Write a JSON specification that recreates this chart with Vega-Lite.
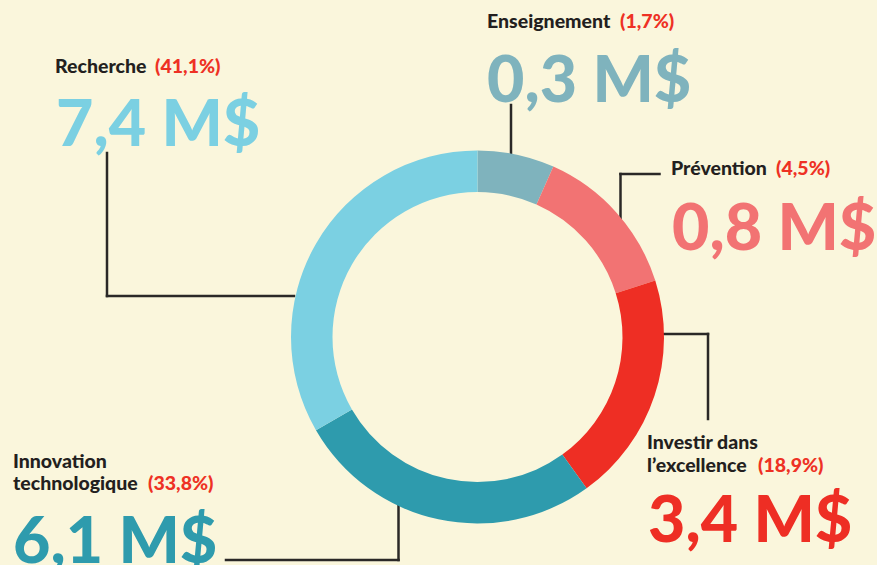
{
  "$schema": "https://vega.github.io/schema/vega-lite/v6.json",
  "width": 877,
  "height": 565,
  "autosize": "none",
  "padding": 0,
  "background": "#FAF6DC",
  "config": {"view": {"stroke": null}, "font": "Lato"},
  "datasets": {
    "segments": [
      {"cat": "Enseignement", "order": 1, "angle": 24.0, "share": "(1,7%)", "amount": "0,3 M$", "vx": 487, "vy": 102, "px": 620, "py": 28},
      {"cat": "Prévention", "order": 2, "angle": 48.4, "share": "(4,5%)", "amount": "0,8 M$", "vx": 672, "vy": 250, "px": 776, "py": 175},
      {"cat": "Investir dans l’excellence", "order": 3, "angle": 71.8, "share": "(18,9%)", "amount": "3,4 M$", "vx": 648, "vy": 542, "px": 758, "py": 472},
      {"cat": "Innovation technologique", "order": 4, "angle": 95.8, "share": "(33,8%)", "amount": "6,1 M$", "vx": 13, "vy": 563, "px": 148, "py": 490},
      {"cat": "Recherche", "order": 5, "angle": 120.0, "share": "(41,1%)", "amount": "7,4 M$", "vx": 56, "vy": 146, "px": 155, "py": 73}
    ],
    "names": [
      {"text": "Enseignement", "x": 487, "y": 28},
      {"text": "Prévention", "x": 671, "y": 175},
      {"text": "Investir dans", "x": 647, "y": 449},
      {"text": "l’excellence", "x": 647, "y": 472},
      {"text": "Innovation", "x": 13, "y": 468},
      {"text": "technologique", "x": 13, "y": 490},
      {"text": "Recherche", "x": 55, "y": 73}
    ],
    "leaders": [
      {"x": 511, "y": 105, "x2": 511, "y2": 156},
      {"x": 620.5, "y": 174, "x2": 659.5, "y2": 174},
      {"x": 620.5, "y": 174, "x2": 620.5, "y2": 222},
      {"x": 662, "y": 334, "x2": 708, "y2": 334},
      {"x": 708, "y": 334, "x2": 708, "y2": 419},
      {"x": 398.5, "y": 506, "x2": 398.5, "y2": 560},
      {"x": 226, "y": 560, "x2": 398.5, "y2": 560},
      {"x": 107, "y": 153, "x2": 107, "y2": 296},
      {"x": 107, "y": 296, "x2": 294, "y2": 296}
    ]
  },
  "encoding": {
    "x": {"scale": {"domain": [0, 877], "nice": false, "zero": false}, "axis": null},
    "y": {"scale": {"domain": [0, 565], "nice": false, "zero": false, "reverse": true}, "axis": null}
  },
  "layer": [
    {
      "data": {"name": "leaders"},
      "mark": {"type": "rule", "color": "#2A2827", "strokeWidth": 2.5, "strokeCap": "square"},
      "encoding": {
        "x": {"field": "x", "type": "quantitative"},
        "y": {"field": "y", "type": "quantitative"},
        "x2": {"field": "x2"},
        "y2": {"field": "y2"}
      }
    },
    {
      "data": {"name": "segments"},
      "mark": {"type": "arc", "outerRadius": 186.5, "innerRadius": 145},
      "encoding": {
        "x": {"datum": 477.5, "type": "quantitative"},
        "y": {"datum": 337, "type": "quantitative"},
        "theta": {"field": "angle", "type": "quantitative", "stack": true},
        "order": {"field": "order", "type": "quantitative"},
        "color": {
          "field": "cat", "type": "nominal", "legend": null,
          "scale": {
            "domain": ["Enseignement", "Prévention", "Investir dans l’excellence", "Innovation technologique", "Recherche"],
            "range": ["#7FB3BD", "#F27373", "#EE2E24", "#2E9BAD", "#7BD0E2"]
          }
        }
      }
    },
    {
      "data": {"name": "segments"},
      "mark": {"type": "text", "align": "left", "baseline": "alphabetic", "fontSize": 64.5, "fontWeight": 900, "font": "Lato"},
      "encoding": {
        "x": {"field": "vx", "type": "quantitative"},
        "y": {"field": "vy", "type": "quantitative"},
        "text": {"field": "amount"},
        "color": {"field": "cat", "type": "nominal", "legend": null}
      }
    },
    {
      "data": {"name": "names"},
      "mark": {"type": "text", "align": "left", "baseline": "alphabetic", "fontSize": 19.5, "fontWeight": 900, "font": "Lato", "color": "#231F20"},
      "encoding": {
        "x": {"field": "x", "type": "quantitative"},
        "y": {"field": "y", "type": "quantitative"},
        "text": {"field": "text"}
      }
    },
    {
      "data": {"name": "segments"},
      "mark": {"type": "text", "align": "left", "baseline": "alphabetic", "fontSize": 19.5, "fontWeight": 900, "font": "Lato", "color": "#EE3124"},
      "encoding": {
        "x": {"field": "px", "type": "quantitative"},
        "y": {"field": "py", "type": "quantitative"},
        "text": {"field": "share"}
      }
    }
  ]
}
